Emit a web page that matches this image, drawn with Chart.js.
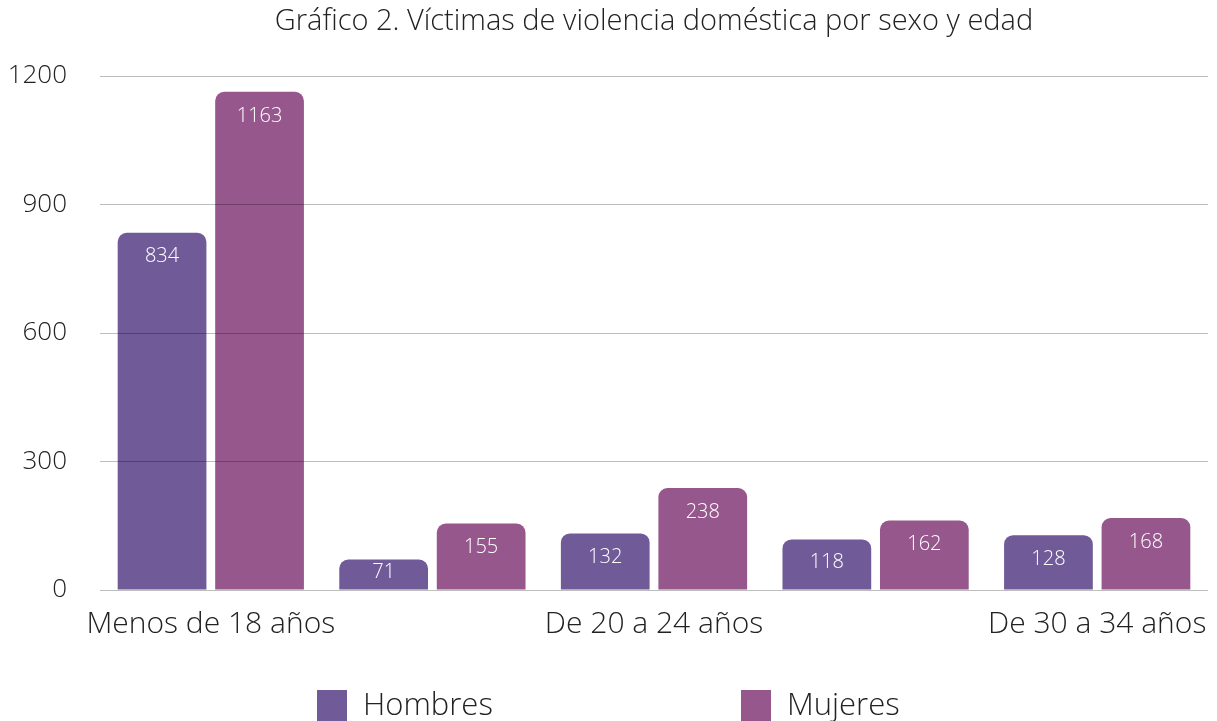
<!DOCTYPE html>
<html><head><meta charset="utf-8">
<script src="https://cdn.jsdelivr.net/npm/chart.js@4"></script>
<style>html,body{margin:0;padding:0;background:#fff}#wrap{width:1217px;height:721px}</style>
</head><body><div id="wrap"><canvas id="c" width="1217" height="721"></canvas></div>
<script>
const titleText = 'Gráfico 2. Víctimas de violencia doméstica por sexo y edad';
const categories = ['Menos de 18 años', 'De 18 a 19 años', 'De 20 a 24 años', 'De 25 a 29 años', 'De 30 a 34 años'];
const hombres = [834, 71, 132, 118, 128];
const mujeres = [1163, 155, 238, 162, 168];
const seriesNames = ['Hombres', 'Mujeres'];
const seriesColors = ['#705A98', '#96578C'];
const yTicks = [0, 300, 600, 900, 1200];

const lightFont = '"Open Sans", "Noto Sans", sans-serif';

const extras = {
  id: 'extras',
  afterDatasetsDraw(chart) {
    const ctx = chart.ctx;
    ctx.save();
    ctx.fillStyle = '#ffffff';
    ctx.font = '300 20px ' + lightFont;
    ctx.textAlign = 'center';
    ctx.textBaseline = 'middle';
    chart.data.datasets.forEach((ds, di) => {
      chart.getDatasetMeta(di).data.forEach((bar, i) => {
        const y = Math.min(bar.y + 24, (bar.y + bar.base) / 2 - 2);
        ctx.fillText(String(ds.data[i]), bar.x, y);
      });
    });
    ctx.restore();
  },
  afterDraw(chart) {
    const ctx = chart.ctx, a = chart.chartArea;
    ctx.save();
    ctx.fillStyle = '#222';
    ctx.font = '300 29px ' + lightFont;
    ctx.textAlign = 'center';
    ctx.textBaseline = 'middle';
    ctx.fillText(titleText, (a.left + a.right) / 2, 22);
    // legend
    const items = [{x: 317}, {x: 741}];
    ctx.font = '300 31px ' + lightFont;
    ctx.textAlign = 'left';
    chart.data.datasets.forEach((ds, i) => {
      const x = items[i].x;
      ctx.fillStyle = ds.backgroundColor;
      ctx.fillRect(x, 690, 30, 31);
      ctx.fillStyle = '#222';
      ctx.fillText(ds.label, x + 46, 706);
    });
    ctx.restore();
  }
};

new Chart(document.getElementById('c'), {
  type: 'bar',
  data: {
    labels: categories,
    datasets: [
      {label: seriesNames[0], data: hombres, backgroundColor: seriesColors[0]},
      {label: seriesNames[1], data: mujeres, backgroundColor: seriesColors[1]}
    ]
  },
  options: {
    responsive: false,
    animation: false,
    devicePixelRatio: 1,
    layout: {padding: {top: 76, right: 9, left: 0, bottom: 0}},
    datasets: {bar: {categoryPercentage: 0.88, barPercentage: 0.91, borderRadius: {topLeft: 9, topRight: 9}, borderSkipped: 'start'}},
    plugins: {legend: {display: false}, title: {display: false}, tooltip: {enabled: false}},
    scales: {
      x: {
        grid: {display: false, drawTicks: false},
        border: {display: false},
        ticks: {color: '#222', font: {family: lightFont, size: 30, weight: '300'}, maxRotation: 0, minRotation: 0, autoSkip: true, padding: 16},
        afterFit(s) { s.height = 131; s.paddingLeft = 0; s.paddingRight = 0; }
      },
      y: {
        min: 0, max: 1200,
        afterBuildTicks(s) { s.ticks = yTicks.map(v => ({value: v})); },
        grid: {color: 'rgba(0,0,0,0.26)', lineWidth: 1, drawTicks: false, z: 1},
        border: {display: false},
        ticks: {color: '#222', font: {family: lightFont, size: 26, weight: '300'}, padding: 33, callback: v => String(v)},
        afterFit(s) { s.width = 100; }
      }
    }
  },
  plugins: [extras]
});
</script></body></html>
